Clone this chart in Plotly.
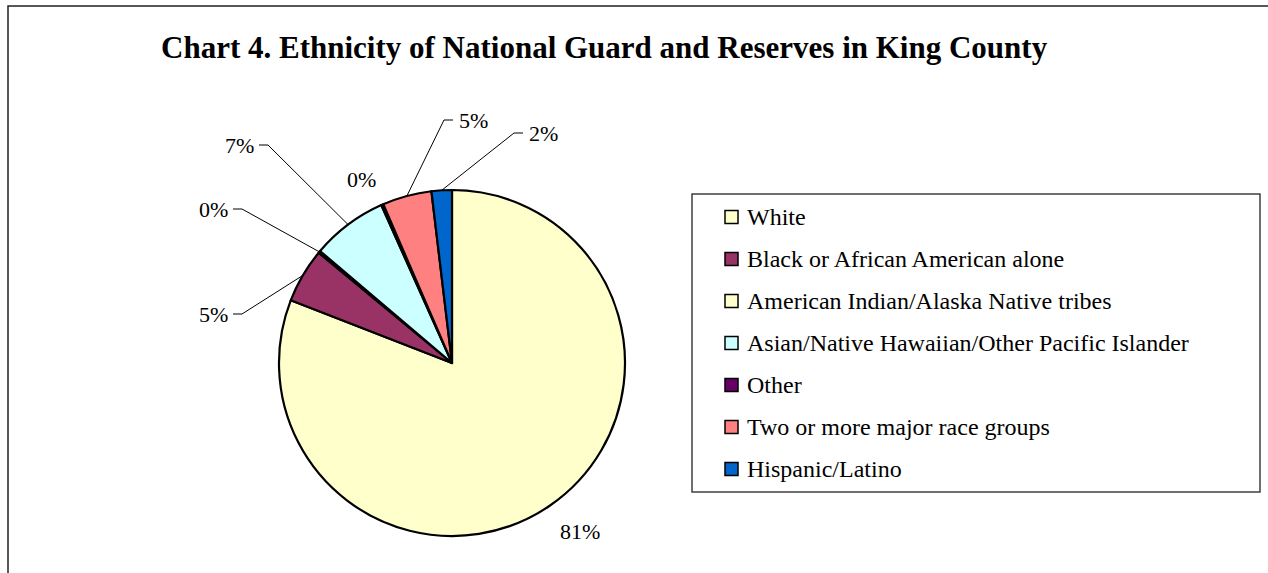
import math
import plotly.graph_objects as go

# Ethnic composition (percent of members)
categories = [
    "White",
    "Black or African American alone",
    "American Indian/Alaska Native tribes",
    "Asian/Native Hawaiian/Other Pacific Islander",
    "Other",
    "Two or more major race groups",
    "Hispanic/Latino",
]
shares = [80.9, 5.1, 0.2, 7.1, 0.2, 4.6, 1.9]
colors = ["#FFFFCC", "#993366", "#FFFFCC", "#CCFFFF", "#660066", "#FF8080", "#0066CC"]

W, H = 1268, 573
CX, CY, R = 452, 363, 173  # pie centre and radius in pixels

# label anchor points (pixel centres) and whether a leader line is drawn
label_pos = [(580, 531), (213, 314), (213, 209), (239, 145), (361, 179), (473, 120), (543, 133)]
label_leader = [False, True, True, True, False, True, True]

SERIF = "Liberation Serif, Times New Roman, serif"


def px(x):
    return x / W


def py(y):
    return 1 - y / H


fig = go.Figure()
fig.add_trace(go.Pie(
    labels=categories,
    values=shares,
    sort=False,
    direction="clockwise",
    rotation=0,
    textinfo="none",
    hoverinfo="label+percent",
    marker=dict(colors=colors, line=dict(color="black", width=2.2)),
    domain=dict(x=[px(CX - R), px(CX + R)], y=[py(CY + R), py(CY - R)]),
    showlegend=False,
))

shapes = []
annotations = []

# outer chart frame
shapes.append(dict(type="rect", xref="paper", yref="paper",
                   x0=px(8), x1=px(W + 10), y0=py(H + 10), y1=py(6),
                   line=dict(color="#222222", width=1.5), fillcolor="rgba(0,0,0,0)"))

# title
annotations.append(dict(
    text="<b>Chart 4. Ethnicity of National Guard and Reserves in King County</b>",
    xref="paper", yref="paper", x=px(604), y=py(47),
    xanchor="center", yanchor="middle", showarrow=False,
    font=dict(family=SERIF, size=31, color="black"),
))

# data labels with leader lines attached to the middle of each slice's rim
total = sum(shares)
cum = 0.0
for val, (lx, ly), lead in zip(shares, label_pos, label_leader):
    mid = (cum + val / 2) / total * 2 * math.pi
    cum += val
    pct = round(val / total * 100)
    txt = f"{pct}%"
    annotations.append(dict(
        text=txt, xref="paper", yref="paper", x=px(lx), y=py(ly),
        xanchor="center", yanchor="middle", showarrow=False,
        font=dict(family=SERIF, size=22, color="black"),
    ))
    if lead:
        ex = CX + R * math.sin(mid)
        ey = CY - R * math.cos(mid)
        hw = 15
        if ex > lx:
            x_a, x_b = lx + hw + 5, lx + hw + 14
        else:
            x_a, x_b = lx - hw - 5, lx - hw - 14
        path = (f"M {px(x_a)},{py(ly)} L {px(x_b)},{py(ly)} "
                f"L {px(ex)},{py(ey)}")
        shapes.append(dict(type="path", xref="paper", yref="paper", path=path,
                           line=dict(color="black", width=1)))

# legend box
LX0, LX1, LY0, LY1 = 692, 1260, 194, 492
shapes.append(dict(type="rect", xref="paper", yref="paper",
                   x0=px(LX0), x1=px(LX1), y0=py(LY1), y1=py(LY0),
                   line=dict(color="#404040", width=1.5), fillcolor="white"))
for i, (name, col) in enumerate(zip(categories, colors)):
    yc = 217 + 42 * i
    shapes.append(dict(type="rect", xref="paper", yref="paper",
                       x0=px(725), x1=px(738), y0=py(yc + 6.5), y1=py(yc - 6.5),
                       line=dict(color="black", width=1.5), fillcolor=col))
    annotations.append(dict(
        text=name, xref="paper", yref="paper", x=px(745), y=py(yc),
        xanchor="left", yanchor="middle", showarrow=False,
        font=dict(family=SERIF, size=24, color="black"),
    ))

fig.update_layout(
    width=W, height=H,
    margin=dict(l=0, r=0, t=0, b=0),
    paper_bgcolor="white",
    plot_bgcolor="white",
    shapes=shapes,
    annotations=annotations,
)

fig.write_html("out.html")
